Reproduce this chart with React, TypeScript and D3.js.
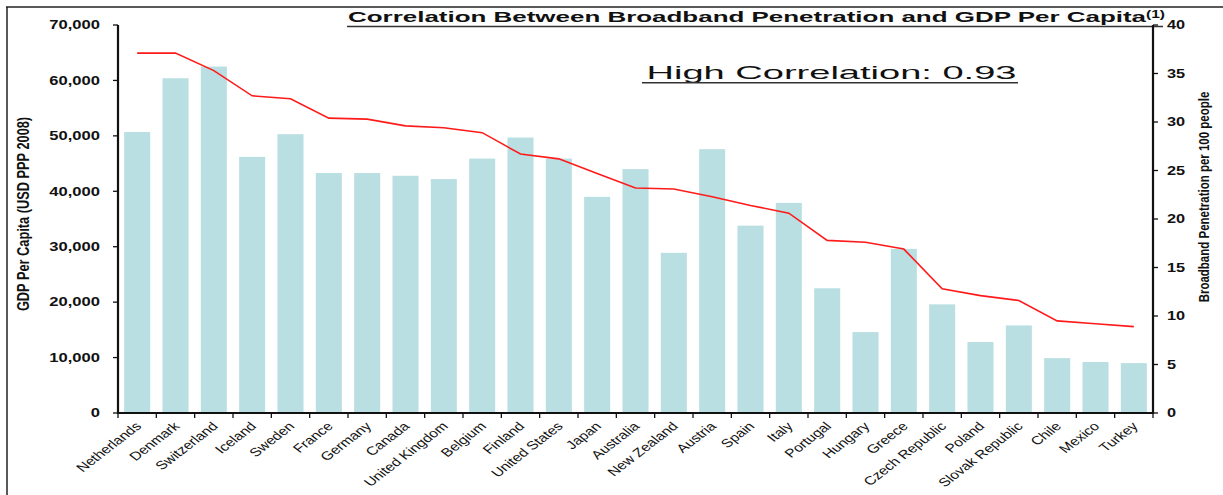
import React from "react";
import * as d3 from "d3";

const categories = [
  "Netherlands", "Denmark", "Switzerland", "Iceland", "Sweden", "France", "Germany", "Canada",
  "United Kingdom", "Belgium", "Finland", "United States", "Japan", "Australia", "New Zealand",
  "Austria", "Spain", "Italy", "Portugal", "Hungary", "Greece", "Czech Republic", "Poland",
  "Slovak Republic", "Chile", "Mexico", "Turkey",
];
const gdpPerCapita = [
  50700, 60400, 62500, 46200, 50300, 43300, 43300, 42800, 42200, 45900, 49700, 45900, 39000,
  44000, 28900, 47600, 33800, 37900, 22500, 14600, 29600, 19600, 12800, 15800, 9900, 9200, 9000,
];
const broadband = [
  37.1, 37.1, 35.3, 32.7, 32.4, 30.4, 30.3, 29.6, 29.4, 28.9, 26.7, 26.2, 24.7, 23.2, 23.1,
  22.3, 21.4, 20.6, 17.8, 17.6, 16.9, 12.8, 12.1, 11.6, 9.5, 9.2, 8.9,
];
const leftTicks = [0, 10000, 20000, 30000, 40000, 50000, 60000, 70000];
const rightTicks = [0, 5, 10, 15, 20, 25, 30, 35, 40];
const titleText = "Correlation Between Broadband Penetration and GDP Per Capita";
const titleNote = "(1)";
const annotation = "High Correlation: 0.93";
const leftAxisTitle = "GDP Per Capita (USD PPP 2008)";
const rightAxisTitle = "Broadband Penetration per 100 people";

const W = 1223;
const H = 495;
const plot = { left: 118, right: 1153, top: 25, bottom: 413 };
const FONT = "'Liberation Sans', Arial, sans-serif";

export default function App() {
  const x = d3
    .scaleBand<string>()
    .domain(categories)
    .range([plot.left, plot.right])
    .paddingInner(0.32)
    .paddingOuter(0.16);
  const yL = d3.scaleLinear().domain([0, 70000]).range([plot.bottom, plot.top]);
  const yR = d3.scaleLinear().domain([0, 40]).range([plot.bottom, plot.top]);
  const step = x.step();
  const bw = x.bandwidth();
  const off = (step - bw) / 2;
  const cx = (c: string) => (x(c) as number) + bw / 2;

  const line = d3
    .line<number>()
    .x((_, i) => cx(categories[i]))
    .y((d) => yR(d));

  const boundaries = categories.map((c) => (x(c) as number) - off).concat([plot.right]);
  const fmt = d3.format(",");

  return (
    <svg
      width={W}
      height={H}
      style={{ position: "absolute", left: 0, top: 0, background: "#fff" }}
      fontFamily={FONT}
    >
      {/* frame */}
      <line x1={6} x2={W} y1={7} y2={7} stroke="#222" strokeWidth={1.5} />
      <line x1={7} x2={7} y1={7} y2={H} stroke="#222" strokeWidth={1.5} />

      {/* title */}
      <text x={348} y={22} fontSize={15.4} fontWeight="bold" fill="#111" textLength={798} lengthAdjust="spacingAndGlyphs">
        {titleText}
      </text>
      <text x={1146} y={18} fontSize={10} fontWeight="bold" fill="#111" textLength={19} lengthAdjust="spacingAndGlyphs">
        {titleNote}
      </text>
      <line x1={347} x2={1163} y1={26.5} y2={26.5} stroke="#333" strokeWidth={1.3} />

      {/* bars */}
      {categories.map((c, i) => (
        <rect
          key={c}
          x={x(c)}
          y={yL(gdpPerCapita[i])}
          width={bw}
          height={plot.bottom - yL(gdpPerCapita[i])}
          fill="#badfe2"
        />
      ))}

      {/* line */}
      <path d={line(broadband) || ""} fill="none" stroke="#ff1a1a" strokeWidth={1.6} />

      {/* annotation */}
      <text x={646.5} y={78.5} fontSize={19} fill="#111" textLength={370} lengthAdjust="spacingAndGlyphs">
        {annotation}
      </text>
      <line x1={642} x2={1018} y1={82.8} y2={82.8} stroke="#333" strokeWidth={1.4} />

      {/* axes */}
      <line x1={plot.left} x2={plot.left} y1={plot.top} y2={plot.bottom + 1} stroke="#111" strokeWidth={2.2} />
      <line x1={plot.right} x2={plot.right} y1={plot.top} y2={plot.bottom + 1} stroke="#111" strokeWidth={2.2} />
      <line x1={plot.left - 1} x2={plot.right + 1} y1={plot.bottom} y2={plot.bottom} stroke="#111" strokeWidth={2.2} />

      {leftTicks.map((t) => (
        <g key={"l" + t}>
          <line x1={plot.left - 5} x2={plot.left} y1={yL(t)} y2={yL(t)} stroke="#111" strokeWidth={1.3} />
          <text
            transform={`translate(100,${yL(t) + 4.3}) scale(1.38,1)`}
            textAnchor="end"
            fontSize={12}
            fontWeight="bold"
            fill="#111"
          >
            {fmt(t)}
          </text>
        </g>
      ))}
      {rightTicks.map((t) => (
        <g key={"r" + t}>
          <line x1={plot.right} x2={plot.right + 5} y1={yR(t)} y2={yR(t)} stroke="#111" strokeWidth={1.3} />
          <text
            transform={`translate(1167,${yR(t) + 4.3}) scale(1.36,1)`}
            textAnchor="start"
            fontSize={12}
            fontWeight="bold"
            fill="#111"
          >
            {t}
          </text>
        </g>
      ))}
      {boundaries.map((b, i) => (
        <line key={"b" + i} x1={b} x2={b} y1={plot.bottom} y2={plot.bottom + 5} stroke="#111" strokeWidth={1.3} />
      ))}

      {/* category labels */}
      {categories.map((c) => (
        <text
          key={"c" + c}
          transform={`translate(${cx(c) + 5},${plot.bottom + 14}) scale(1.3,1) rotate(-45)`}
          textAnchor="end"
          fontSize={12}
          fill="#111"
        >
          {c}
        </text>
      ))}

      {/* axis titles */}
      <text
        transform={`translate(29,214) scale(1.3,1) rotate(-90)`}
        textAnchor="middle"
        fontSize={12.8}
        fontWeight="bold"
        fill="#111"
      >
        {leftAxisTitle}
      </text>
      <text
        transform={`translate(1209,197) scale(1.3,1) rotate(-90)`}
        textAnchor="middle"
        fontSize={11.5}
        fontWeight="bold"
        fill="#111"
      >
        {rightAxisTitle}
      </text>
    </svg>
  );
}
